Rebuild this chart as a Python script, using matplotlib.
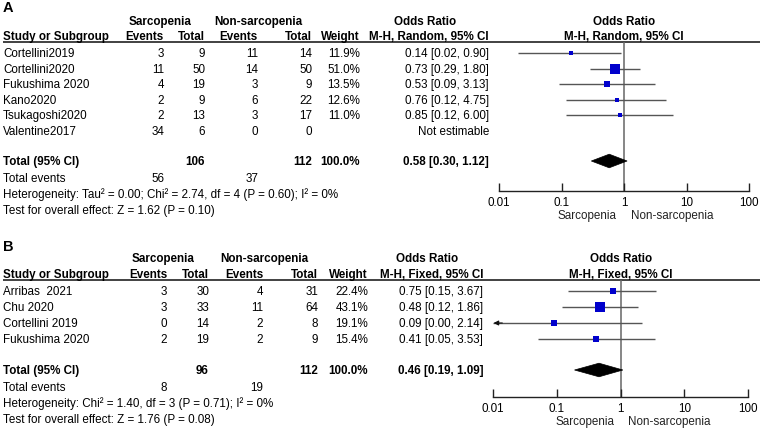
import matplotlib
matplotlib.use("Agg")
import matplotlib.pyplot as plt
from matplotlib.patches import Polygon
import numpy as np

plt.rcParams['font.family'] = ['Liberation Sans', 'DejaVu Sans']

# ---------------- Data: panel A ----------------
a_studies = ["Cortellini2019", "Cortellini2020", "Fukushima 2020", "Kano2020", "Tsukagoshi2020", "Valentine2017"]
a_sarc_events = [3, 11, 4, 2, 2, 34]
a_sarc_total = [9, 50, 19, 9, 13, 6]
a_non_events = [11, 14, 3, 6, 3, 0]
a_non_total = [14, 50, 9, 22, 17, 0]
a_weight = [11.9, 51.0, 13.5, 12.6, 11.0, None]
a_or = [0.14, 0.73, 0.53, 0.76, 0.85, None]
a_lo = [0.02, 0.29, 0.09, 0.12, 0.12, None]
a_hi = [0.90, 1.80, 3.13, 4.75, 6.00, None]
a_total = (106, 112, "100.0%")
a_pooled = (0.58, 0.30, 1.12)
a_events_tot = (56, 37)
a_het = "Heterogeneity: Tau² = 0.00; Chi² = 2.74, df = 4 (P = 0.60); I² = 0%"
a_test = "Test for overall effect: Z = 1.62 (P = 0.10)"
a_method = "M-H, Random, 95% CI"

# ---------------- Data: panel B ----------------
b_studies = ["Arribas  2021", "Chu 2020", "Cortellini 2019", "Fukushima 2020"]
b_sarc_events = [3, 3, 0, 2]
b_sarc_total = [30, 33, 14, 19]
b_non_events = [4, 11, 2, 2]
b_non_total = [31, 64, 8, 9]
b_weight = [22.4, 43.1, 19.1, 15.4]
b_or = [0.75, 0.48, 0.09, 0.41]
b_lo = [0.15, 0.12, 0.00, 0.05]
b_hi = [3.67, 1.86, 2.14, 3.53]
b_total = (96, 112, "100.0%")
b_pooled = (0.46, 0.19, 1.09)
b_events_tot = (8, 19)
b_het = "Heterogeneity: Chi² = 1.40, df = 3 (P = 0.71); I² = 0%"
b_test = "Test for overall effect: Z = 1.76 (P = 0.08)"
b_method = "M-H, Fixed, 95% CI"

tick_vals = [0.01, 0.1, 1, 10, 100]
tick_labels = ["0.01", "0.1", "1", "10", "100"]

W, H = 760, 435
fig = plt.figure(figsize=(W / 100, H / 100), dpi=100)
ov = fig.add_axes([0, 0, 1, 1])
ov.set_xlim(0, W)
ov.set_ylim(H, 0)
ov.axis('off')

FS = 8.4
SQ = '#0000CC'
LN = '#555555'


def fmt_ci(o, l, h):
    return f"{o:.2f} [{l:.2f}, {h:.2f}]"


def panel(letter, ys, cols, studies, se, st, ne, nt, wt, orv, lo, hi, tot, pooled,
          evtot, het, test, method, fx):
    ov.text(3, ys['letter'], letter, fontsize=10.5, fontweight='bold', va='center', ha='left')
    yh1, yh2, yline = ys['h1'], ys['h2'], ys['line']
    ov.text(cols['sarc_c'], yh1, "Sarcopenia", fontsize=FS, fontweight='bold', ha='center', va='center')
    ov.text(cols['non_c'], yh1, "Non-sarcopenia", fontsize=FS, fontweight='bold', ha='center', va='center')
    ov.text(cols['or_c'], yh1, "Odds Ratio", fontsize=FS, fontweight='bold', ha='center', va='center')
    ov.text(fx['one'], yh1, "Odds Ratio", fontsize=FS, fontweight='bold', ha='center', va='center')
    ov.text(3, yh2, "Study or Subgroup", fontsize=FS, fontweight='bold', ha='left', va='center')
    for key, lab in [('se', 'Events'), ('st', 'Total'), ('ne', 'Events'), ('nt', 'Total'), ('w', 'Weight'), ('or', method)]:
        ov.text(cols[key], yh2, lab, fontsize=FS, fontweight='bold', ha='right', va='center')
    ov.text(fx['one'], yh2, method, fontsize=FS, fontweight='bold', ha='center', va='center')
    ov.plot([3, W], [yline, yline], color='#333333', lw=1.3, solid_capstyle='butt')

    ystart = ys['row0']
    rowh = ys['rowh']
    for i, s in enumerate(studies):
        y = ystart + rowh * i
        ov.text(3, y, s, fontsize=FS, ha='left', va='center')
        ov.text(cols['se'], y, str(se[i]), fontsize=FS, ha='right', va='center')
        ov.text(cols['st'], y, str(st[i]), fontsize=FS, ha='right', va='center')
        ov.text(cols['ne'], y, str(ne[i]), fontsize=FS, ha='right', va='center')
        ov.text(cols['nt'], y, str(nt[i]), fontsize=FS, ha='right', va='center')
        if wt[i] is not None:
            ov.text(cols['w'], y, f"{wt[i]:.1f}%", fontsize=FS, ha='right', va='center')
            ov.text(cols['or'], y, fmt_ci(orv[i], lo[i], hi[i]), fontsize=FS, ha='right', va='center')
        else:
            ov.text(cols['or'], y, "Not estimable", fontsize=FS, ha='right', va='center')
    n = len(studies)
    ytot = ys['total']
    ov.text(3, ytot, "Total (95% CI)", fontsize=FS, fontweight='bold', ha='left', va='center')
    ov.text(cols['st'], ytot, str(tot[0]), fontsize=FS, fontweight='bold', ha='right', va='center')
    ov.text(cols['nt'], ytot, str(tot[1]), fontsize=FS, fontweight='bold', ha='right', va='center')
    ov.text(cols['w'], ytot, tot[2], fontsize=FS, fontweight='bold', ha='right', va='center')
    ov.text(cols['or'], ytot, fmt_ci(*pooled), fontsize=FS, fontweight='bold', ha='right', va='center')
    yev = ys['events']
    ov.text(3, yev, "Total events", fontsize=FS, ha='left', va='center')
    ov.text(cols['se'], yev, str(evtot[0]), fontsize=FS, ha='right', va='center')
    ov.text(cols['ne'], yev, str(evtot[1]), fontsize=FS, ha='right', va='center')
    ov.text(3, yev + 16, het, fontsize=FS, ha='left', va='center')
    ov.text(3, yev + 32, test, fontsize=FS, ha='left', va='center')

    # forest axes
    yaxis = fx['yaxis']
    ax = fig.add_axes([fx['x0'] / W, 1 - yaxis / H, (fx['x1'] - fx['x0']) / W, (yaxis - yline) / H])
    ax.set_xscale('log')
    ax.set_xlim(0.01, 100)
    top = (yline - ystart) / rowh
    bot = (yaxis - ystart) / rowh
    ax.set_ylim(bot, top)
    ax.patch.set_alpha(0)
    for sp in ['top', 'right', 'left']:
        ax.spines[sp].set_visible(False)
    ax.spines['bottom'].set_linewidth(1.0)
    ax.spines['bottom'].set_color('#222222')
    ax.set_yticks([])
    ax.set_xticks(tick_vals)
    ax.set_xticklabels(tick_labels, fontsize=FS)
    ax.minorticks_off()
    ax.tick_params(axis='x', direction='in', length=6, width=1.0, color='#222222', pad=3.5)
    ax.axvline(1, color='#666666', lw=1.1, zorder=1)
    for i in range(n):
        if orv[i] is None:
            continue
        l = max(lo[i], 0.01)
        ax.plot([l, hi[i]], [i, i], color=LN, lw=1.0, zorder=2, solid_capstyle='butt')
        if lo[i] < 0.01:
            ax.annotate('', xy=(0.0102, i), xytext=(0.014, i),
                        arrowprops=dict(arrowstyle='-|>', color='#111111', lw=0.8,
                                        mutation_scale=7, shrinkA=0, shrinkB=0))
        side_px = 1.4 * np.sqrt(wt[i])
        ax.plot([orv[i]], [i], marker='s', ms=side_px * 0.72, color=SQ, mec=SQ, mew=0, zorder=3, ls='none')
    yt = (ytot - ystart) / rowh
    hh = 6.8 / rowh
    p, l, h = pooled
    ax.add_patch(Polygon([[l, yt], [p, yt - hh], [h, yt], [p, yt + hh]], closed=True,
                         facecolor='black', edgecolor='black', lw=0.5, zorder=4))
    ylab = yaxis + 24.5
    ov.text(fx['one'] - 7, ylab, "Sarcopenia", fontsize=FS, ha='right', va='center', color='#222222')
    ov.text(fx['one'] + 7, ylab, "Non-sarcopenia", fontsize=FS, ha='left', va='center', color='#222222')


colsA = dict(sarc_c=160, non_c=258, or_c=425, se=164, st=205, ne=258, nt=312, w=360, or_=None)
colsA['or'] = 489
ysA = dict(letter=8, h1=22, h2=37, line=42.5, row0=54, rowh=15.6, total=162, events=179)
panel("A", ysA, colsA, a_studies, a_sarc_events, a_sarc_total, a_non_events, a_non_total, a_weight,
      a_or, a_lo, a_hi, a_total, a_pooled, a_events_tot, a_het, a_test, a_method,
      fx=dict(x0=499, x1=749, one=624, yaxis=192))

colsB = dict(sarc_c=163, non_c=264, or_c=427, se=167, st=209, ne=263, nt=318, w=368)
colsB['or'] = 483
ysB = dict(letter=247, h1=259, h2=275, line=281, row0=292, rowh=16, total=371, events=388)
panel("B", ysB, colsB, b_studies, b_sarc_events, b_sarc_total, b_non_events, b_non_total, b_weight,
      b_or, b_lo, b_hi, b_total, b_pooled, b_events_tot, b_het, b_test, b_method,
      fx=dict(x0=493, x1=748, one=621, yaxis=398))

fig.savefig("out.png", dpi=100)
